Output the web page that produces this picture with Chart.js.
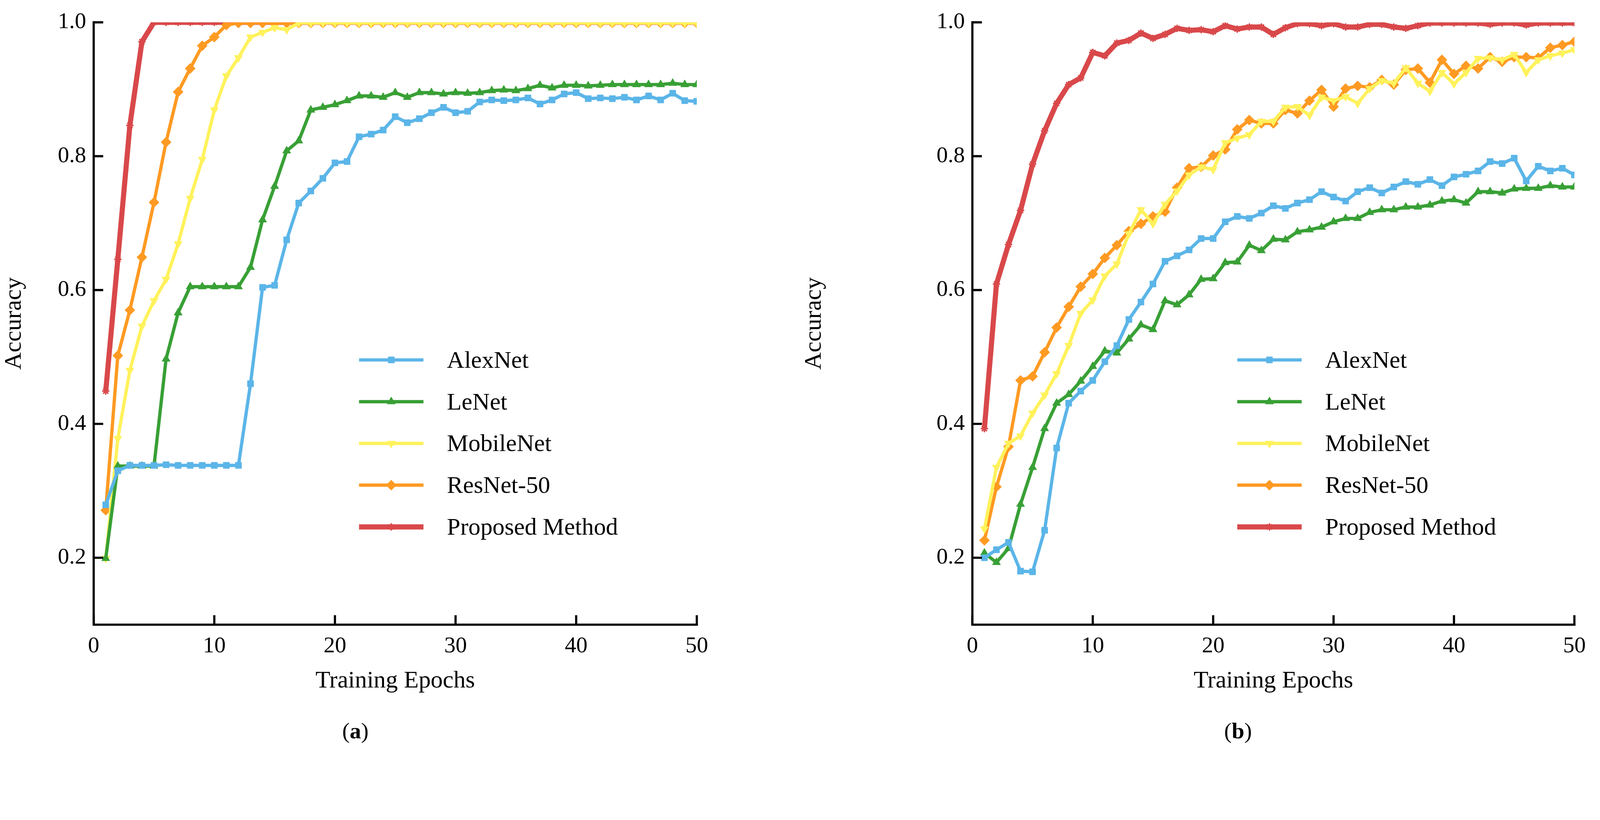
<!DOCTYPE html>
<html>
<head>
<meta charset="utf-8">
<script src="https://cdn.jsdelivr.net/npm/chart.js@4.4.0/dist/chart.umd.min.js"></script>
<style>
  html, body { margin: 0; padding: 0; background: #fff; overflow: hidden; }
  body { font-family: "Liberation Serif", serif; }
  .panel { position: absolute; top: 0; }
  .cap { position: absolute; color: #000; }
</style>
</head>
<body>
<div class="panel" id="pA"><canvas id="chartA"></canvas></div>
<div class="panel" id="pB"><canvas id="chartB"></canvas></div>
<div class="cap" id="capA">(<b>a</b>)</div>
<div class="cap" id="capB">(<b>b</b>)</div>
<script>
// epochs 1..50
const epochs = [1,2,3,4,5,6,7,8,9,10,11,12,13,14,15,16,17,18,19,20,21,22,23,24,25,26,27,28,29,30,31,32,33,34,35,36,37,38,39,40,41,42,43,44,45,46,47,48,49,50];
const seriesNames = ['AlexNet', 'LeNet', 'MobileNet', 'ResNet-50', 'Proposed Method'];
const yTicks = [0.2, 0.4, 0.6, 0.8, 1.0];
const xTicks = [0, 10, 20, 30, 40, 50];

// (a)
const alexA = [0.279,0.33,0.338,0.338,0.338,0.339,0.338,0.338,0.338,0.338,0.338,0.338,0.46,0.604,0.607,0.675,0.73,0.748,0.767,0.79,0.792,0.829,0.833,0.839,0.859,0.85,0.856,0.865,0.873,0.865,0.867,0.881,0.884,0.883,0.884,0.887,0.878,0.884,0.893,0.895,0.886,0.887,0.886,0.888,0.884,0.89,0.884,0.894,0.883,0.882];
const leA = [0.199,0.337,0.337,0.337,0.337,0.497,0.566,0.605,0.605,0.605,0.605,0.605,0.634,0.705,0.755,0.808,0.823,0.869,0.873,0.877,0.883,0.89,0.89,0.888,0.895,0.888,0.895,0.895,0.893,0.895,0.894,0.895,0.898,0.899,0.898,0.901,0.906,0.902,0.906,0.906,0.905,0.906,0.907,0.907,0.907,0.907,0.907,0.909,0.907,0.907];
const mobileA = [0.199,0.378,0.48,0.546,0.584,0.616,0.669,0.737,0.795,0.869,0.92,0.947,0.978,0.985,0.992,0.989,0.999,0.999,0.999,0.999,0.999,0.999,0.999,0.999,0.999,0.999,0.999,0.999,0.999,0.999,0.999,0.999,0.999,0.999,0.999,0.999,0.999,0.999,0.999,0.999,0.999,0.999,0.999,0.999,0.999,0.999,0.999,0.999,0.999,0.999];
const resA = [0.271,0.502,0.57,0.649,0.731,0.821,0.896,0.931,0.965,0.978,0.996,0.999,0.999,0.999,0.999,0.999,0.999,0.999,0.999,0.999,0.999,0.999,0.999,0.999,0.999,0.999,0.999,0.999,0.999,0.999,0.999,0.999,0.999,0.999,0.999,0.999,0.999,0.999,0.999,0.999,0.999,0.999,0.999,0.999,0.999,0.999,0.999,0.999,0.999,0.999];
const propA = [0.449,0.646,0.846,0.971,1.0,1.0,1.0,1.0,1.0,1.0,1.0,1.0,1.0,1.0,1.0,1.0,1.0,1.0,1.0,1.0,1.0,1.0,1.0,1.0,1.0,1.0,1.0,1.0,1.0,1.0,1.0,1.0,1.0,1.0,1.0,1.0,1.0,1.0,1.0,1.0,1.0,1.0,1.0,1.0,1.0,1.0,1.0,1.0,1.0,1.0];

// (b)
const alexB = [0.2,0.212,0.223,0.18,0.179,0.241,0.364,0.431,0.449,0.465,0.493,0.517,0.556,0.582,0.609,0.643,0.651,0.66,0.677,0.677,0.702,0.71,0.707,0.715,0.726,0.722,0.73,0.735,0.747,0.739,0.733,0.747,0.753,0.745,0.754,0.762,0.758,0.765,0.756,0.769,0.773,0.778,0.792,0.789,0.797,0.763,0.785,0.778,0.782,0.772];
const leB = [0.207,0.193,0.214,0.28,0.335,0.393,0.431,0.444,0.464,0.486,0.509,0.506,0.527,0.548,0.541,0.584,0.578,0.593,0.616,0.617,0.641,0.642,0.667,0.659,0.676,0.675,0.687,0.69,0.694,0.702,0.707,0.707,0.716,0.72,0.72,0.724,0.724,0.727,0.733,0.735,0.73,0.747,0.747,0.745,0.751,0.752,0.752,0.756,0.754,0.754];
const mobileB = [0.243,0.335,0.371,0.382,0.416,0.443,0.475,0.517,0.565,0.585,0.621,0.639,0.684,0.72,0.699,0.728,0.748,0.772,0.784,0.78,0.82,0.827,0.832,0.852,0.852,0.873,0.874,0.861,0.888,0.883,0.889,0.879,0.901,0.913,0.909,0.932,0.909,0.897,0.925,0.908,0.925,0.946,0.947,0.944,0.952,0.925,0.944,0.95,0.954,0.959];
const resB = [0.226,0.306,0.366,0.465,0.471,0.507,0.544,0.575,0.605,0.624,0.648,0.667,0.688,0.699,0.71,0.717,0.753,0.782,0.784,0.801,0.81,0.84,0.854,0.849,0.849,0.869,0.864,0.883,0.899,0.874,0.901,0.905,0.903,0.914,0.907,0.929,0.931,0.91,0.944,0.923,0.935,0.931,0.948,0.941,0.948,0.948,0.947,0.962,0.966,0.971];
const propB = [0.393,0.609,0.668,0.719,0.788,0.838,0.879,0.907,0.917,0.955,0.95,0.969,0.973,0.984,0.976,0.982,0.991,0.988,0.989,0.986,0.995,0.99,0.993,0.993,0.982,0.992,0.998,0.998,0.995,0.998,0.993,0.993,0.997,0.997,0.993,0.991,0.995,0.999,0.999,0.999,0.999,0.999,0.997,0.999,0.999,0.996,0.999,0.999,0.999,0.999];

const colors = ['#5bb5e8', '#38a035', '#fff25c', '#ff9a22', '#d9484a'];
const markers = ['rect', 'triangle', 'triangle', 'rectRot', 'star'];
const rotations = [0, 0, 180, 0, 0];

// 依視窗寬度縮放 (設計基準 4372px)
const k = window.innerWidth / 4372;
const radii = [12, 13, 13, 14, 10].map(r => r * k);
const widths = [9, 9, 9, 9, 14].map(w => w * k);

const panelW = 2186 * k, panelH = 1900 * k;
['pA', 'pB'].forEach((id, i) => {
    const el = document.getElementById(id);
    el.style.left = (i * panelW) + 'px';
    el.style.width = panelW + 'px';
    el.style.height = panelH + 'px';
    const c = el.querySelector('canvas');
    c.width = panelW;
    c.height = panelH;
});
[['capA', 935], ['capB', 3345]].forEach(([id, x]) => {
    const el = document.getElementById(id);
    el.style.left = (x * k) + 'px';
    el.style.top = (1960 * k) + 'px';
    el.style.fontSize = (62 * k) + 'px';
});

function makeDatasets(list) {
    return list.map((vals, i) => ({
        label: seriesNames[i],
        data: epochs.map((e, j) => ({ x: e, y: vals[j] })),
        borderColor: colors[i],
        backgroundColor: colors[i],
        borderWidth: widths[i],
        pointStyle: markers[i],
        rotation: rotations[i],
        pointRadius: radii[i],
        pointBorderWidth: (i === 4 ? 4 : 1) * k,
        tension: 0
    }));
}

// 軸線內側刻度 + 圖例
const decorPlugin = {
    id: 'decor',
    afterDraw(chart) {
        const ctx = chart.ctx;
        const area = chart.chartArea;
        const xs = chart.scales.x, ys = chart.scales.y;
        ctx.save();
        ctx.strokeStyle = '#000';
        ctx.lineWidth = 6 * k;
        ctx.beginPath();
        ctx.moveTo(area.left, area.top - 3 * k);
        ctx.lineTo(area.left, area.bottom);
        ctx.lineTo(area.right + 3 * k, area.bottom);
        ctx.stroke();
        ctx.beginPath();
        yTicks.forEach(v => {
            const y = ys.getPixelForValue(v);
            ctx.moveTo(area.left, y);
            ctx.lineTo(area.left + 26 * k, y);
        });
        xTicks.forEach(v => {
            const x = xs.getPixelForValue(v);
            ctx.moveTo(x, area.bottom);
            ctx.lineTo(x, area.bottom - 26 * k);
        });
        ctx.stroke();

        // 圖例
        const lx = area.left + area.width * 0.44;
        const base = area.bottom - 723 * k;
        ctx.font = (66 * k) + 'px "Liberation Serif"';
        ctx.textBaseline = 'middle';
        chart.data.datasets.forEach((ds, i) => {
            const y = base + i * 114 * k;
            ctx.strokeStyle = ds.borderColor;
            ctx.lineWidth = ds.borderWidth;
            ctx.beginPath();
            ctx.moveTo(lx, y);
            ctx.lineTo(lx + 176 * k, y);
            ctx.stroke();
            ctx.fillStyle = ds.backgroundColor;
            ctx.strokeStyle = ds.borderColor;
            ctx.lineWidth = ds.pointBorderWidth;
            Chart.helpers.drawPoint(ctx, { pointStyle: ds.pointStyle, rotation: ds.rotation, radius: ds.pointRadius, borderWidth: ds.pointBorderWidth }, lx + 88 * k, y);
            ctx.fillStyle = '#000';
            ctx.fillText(ds.label, lx + 240 * k, y + 4 * k);
        });
        ctx.restore();
    }
};

function makeChart(id, list, yWidth, padRight) {
    const ctx = document.getElementById(id).getContext('2d');
    return new Chart(ctx, {
        type: 'line',
        data: { datasets: makeDatasets(list) },
        plugins: [decorPlugin],
        options: {
            responsive: false,
            animation: false,
            layout: { padding: { top: 61 * k, right: padRight * k, left: 0, bottom: 0 } },
            plugins: { legend: { display: false }, tooltip: { enabled: false } },
            scales: {
                x: {
                    type: 'linear', min: 0, max: 50,
                    border: { display: false },
                    grid: { display: false },
                    afterBuildTicks: s => { s.ticks = xTicks.map(v => ({ value: v })); },
                    ticks: { color: '#000', font: { family: 'Liberation Serif', size: 62 * k }, padding: 14 * k },
                    title: { display: true, text: 'Training Epochs', color: '#000', font: { family: 'Liberation Serif', size: 66 * k }, padding: 0 },
                    afterFit: s => { s.height = 194 * k; }
                },
                y: {
                    min: 0.1, max: 1.0,
                    border: { display: false },
                    grid: { display: false },
                    afterBuildTicks: s => { s.ticks = yTicks.map(v => ({ value: v })); },
                    ticks: { color: '#000', font: { family: 'Liberation Serif', size: 62 * k }, padding: 12 * k, callback: v => v.toFixed(1) },
                    title: { display: true, text: 'Accuracy', color: '#000', font: { family: 'Liberation Serif', size: 66 * k }, padding: 0 },
                    afterFit: s => { s.width = yWidth * k; }
                }
            }
        }
    });
}

makeChart('chartA', [alexA, leA, mobileA, resA, propA], 256, 282);
makeChart('chartB', [alexB, leB, mobileB, resB, propB], 471, 70);
</script>
</body>
</html>
